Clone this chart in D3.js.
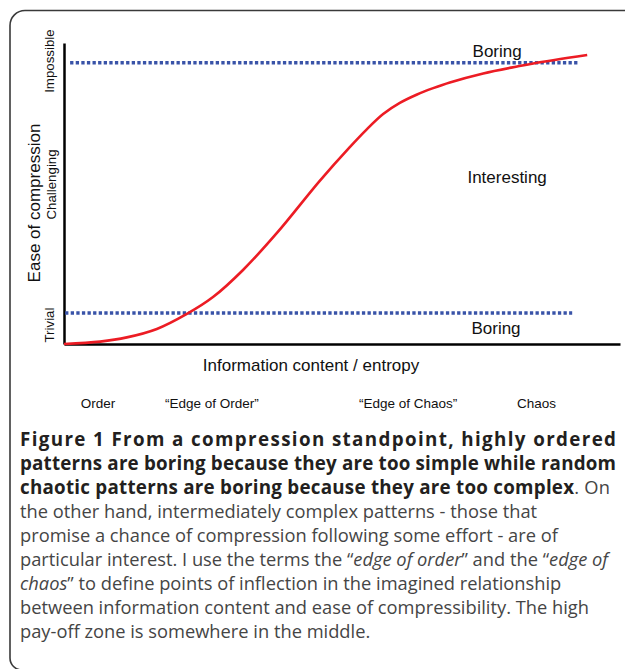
<!DOCTYPE html>
<html>
<head>
<meta charset="utf-8">
<script src="https://cdn.jsdelivr.net/npm/d3@7"></script>
<style>
  html, body { margin: 0; padding: 0; background: #fff; }
  svg { display: block; }
</style>
</head>
<body>
<div id="chart"></div>
<script>
// curve: information content (x) vs ease of compression (y), both 0..100
const curveX = [0, 6.5, 11.3, 16.7, 22.1, 26.8, 32.2, 38.3, 46.0, 51.4, 54.5, 57.4, 60.4, 63.5, 66.4, 69.4, 75.4, 81.5, 84.4, 94.1];
const curveY = [0, 0.8, 2.2, 5.0, 10.0, 15.6, 24.6, 36.9, 54.2, 65.4, 71.4, 76.4, 80.1, 82.9, 85.0, 86.9, 89.9, 92.2, 93.2, 96.0];

// the two "boring" thresholds
const boringLevels = [93.4, 10.3];
const boringStart = [1.1, 0.2];
const boringEnd = [92.4, 91.4];

const yLevelLabels = ['Trivial', 'Challenging', 'Impossible'];
const yLevelValues = [6.3, 53, 94];

const zoneLabels = ['Order', '\u201CEdge of Order\u201D', '\u201CEdge of Chaos\u201D', 'Chaos'];
const zoneValues = [6.1, 26.6, 61.9, 85];

const regionLabels = ['Boring', 'Interesting', 'Boring'];

const xTitle = 'Information content / entropy';
const yTitle = 'Ease of compression';

// caption, one entry per line: [text, bold, italic]
const captionLines = [
  [['Figure 1 From a compression standpoint, highly ordered', 1, 0]],
  [['patterns are boring because they are too simple while random', 1, 0]],
  [['chaotic patterns are boring because they are too complex', 1, 0], ['. On', 0, 0]],
  [['the other hand, intermediately complex patterns - those that', 0, 0]],
  [['promise a chance of compression following some effort - are of', 0, 0]],
  [['particular interest. I use the terms the \u201C', 0, 0], ['edge of order', 0, 1], ['\u201D and the \u201C', 0, 0], ['edge of', 0, 1]],
  [['chaos', 0, 1], ['\u201D to define points of inflection in the imagined relationship', 0, 0]],
  [['between information content and ease of compressibility. The high', 0, 0]],
  [['pay-off zone is somewhere in the middle.', 0, 0]]
];
const justified = [true, true, true, false, false, false, false, false, false];

const width = 625;
const height = 669;

const svg = d3.select('#chart').append('svg')
  .attr('width', width)
  .attr('height', height);

// frame (right and bottom edges fall outside the picture)
svg.append('path')
  .attr('d', 'M626,10.5 H25 A15,15 0 0 0 10,25.5 V658 A12,12 0 0 0 22,670')
  .attr('fill', 'none')
  .attr('stroke', '#3a3a3a')
  .attr('stroke-width', 1.6);

const x = d3.scaleLinear().domain([0, 100]).range([64, 620]);
const y = d3.scaleLinear().domain([0, 100]).range([344, 43]);

const chartFont = '"Liberation Sans", Arial, sans-serif';

// axes: plain lines, no ticks
svg.append('g')
  .attr('transform', 'translate(0,' + y(0) + ')')
  .call(d3.axisBottom(x).ticks(0).tickSize(0).tickSizeOuter(0))
  .call(g => g.select('.domain').attr('stroke', '#000').attr('stroke-width', 2.5));

svg.append('g')
  .attr('transform', 'translate(' + x(0) + ',0)')
  .call(d3.axisLeft(y).ticks(0).tickSize(0).tickSizeOuter(0))
  .call(g => g.select('.domain').attr('stroke', '#000').attr('stroke-width', 2.5));

// dotted thresholds
svg.selectAll('line.boring')
  .data(boringLevels)
  .enter()
  .append('line')
  .attr('class', 'boring')
  .attr('x1', (d, i) => x(boringStart[i]))
  .attr('x2', (d, i) => x(boringEnd[i]))
  .attr('y1', d => y(d))
  .attr('y2', d => y(d))
  .attr('stroke', '#3953a8')
  .attr('stroke-width', 3.5)
  .attr('stroke-dasharray', '3.3 2.3');

// the curve
const line = d3.line()
  .x(d => x(d[0]))
  .y(d => y(d[1]))
  .curve(d3.curveCatmullRom.alpha(0.5));

svg.append('path')
  .datum(curveX.map((v, i) => [v, curveY[i]]))
  .attr('d', line)
  .attr('fill', 'none')
  .attr('stroke', '#ec1c24')
  .attr('stroke-width', 2.6);

// region labels
const regionPos = [[77.9, 95.3], [79.7, 53.5], [77.7, 3.3]];
svg.selectAll('text.region')
  .data(regionLabels)
  .enter()
  .append('text')
  .attr('class', 'region')
  .attr('x', (d, i) => x(regionPos[i][0]))
  .attr('y', (d, i) => y(regionPos[i][1]))
  .attr('text-anchor', 'middle')
  .attr('font-family', chartFont)
  .attr('font-size', 17)
  .attr('fill', '#111')
  .text(d => d);

// axis titles
svg.append('text')
  .attr('x', 311)
  .attr('y', 371)
  .attr('text-anchor', 'middle')
  .attr('font-family', chartFont)
  .attr('font-size', 17)
  .attr('fill', '#111')
  .text(xTitle);

svg.append('text')
  .attr('transform', 'translate(40,203) rotate(-90)')
  .attr('text-anchor', 'middle')
  .attr('font-family', chartFont)
  .attr('font-size', 17)
  .attr('fill', '#111')
  .text(yTitle);

// y level labels
svg.selectAll('text.ylevel')
  .data(yLevelLabels)
  .enter()
  .append('text')
  .attr('class', 'ylevel')
  .attr('transform', (d, i) => 'translate(' + (i === 1 ? 55.5 : 54) + ',' + y(yLevelValues[i]) + ') rotate(-90)')
  .attr('text-anchor', 'middle')
  .attr('font-family', chartFont)
  .attr('font-size', 13.3)
  .attr('fill', '#111')
  .text(d => d);

// zone labels under the x axis
svg.selectAll('text.zone')
  .data(zoneLabels)
  .enter()
  .append('text')
  .attr('class', 'zone')
  .attr('x', (d, i) => x(zoneValues[i]))
  .attr('y', 408)
  .attr('text-anchor', 'middle')
  .attr('font-family', chartFont)
  .attr('font-size', 13.5)
  .attr('fill', '#111')
  .text(d => d);

// caption
const capFont = '"Open Sans", "Noto Sans", sans-serif';
captionLines.forEach((segs, li) => {
  const t = svg.append('text')
    .attr('x', 20)
    .attr('y', 446 + li * 24)
    .attr('font-family', capFont)
    .attr('font-size', 18.3);
  segs.forEach(s => {
    t.append('tspan')
      .attr('font-weight', s[1] ? 'bold' : 'normal')
      .attr('font-style', s[2] ? 'italic' : 'normal')
      .attr('fill', s[1] ? '#231f20' : '#454545')
      .attr('font-size', s[1] ? 18.8 : null)
      .text(s[0]);
  });
  if (justified[li]) {
    t.attr('textLength', li === 2 ? 590 : 596).attr('lengthAdjust', 'spacing');
  }
});
</script>
</body>
</html>
